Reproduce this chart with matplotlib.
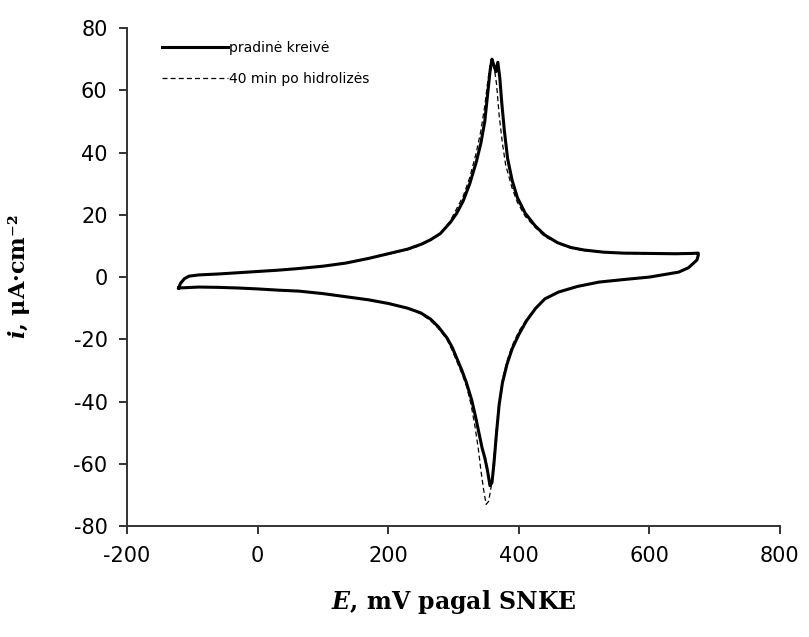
import matplotlib.pyplot as plt

# pradine kreive (solid): anodic branch left->right, cathodic branch right->left
E_up = [-121, -118, -112, -105, -90, -60, -30, 0, 30, 60, 100, 135, 170, 200,
        230, 250, 265, 280, 295, 305, 315, 325, 335, 342, 348, 352, 356, 359,
        362, 365, 368, 371, 374, 378, 383, 390, 398, 410, 425, 440, 460, 480,
        500, 530, 560, 600, 640, 665, 675]
i_up = [-3.5, -2.0, -0.5, 0.3, 0.7, 1.0, 1.4, 1.8, 2.2, 2.7, 3.5, 4.5, 6.0, 7.5,
        9.0, 10.5, 12, 14, 17.5, 20.5, 24.5, 30, 37, 43, 50, 58, 66, 70,
        68, 66, 69, 64, 56, 47, 38, 31, 25.5, 20.5, 16.5, 13.5, 11, 9.5,
        8.7, 8.0, 7.7, 7.6, 7.5, 7.6, 7.7]
E_dn = [675, 673, 660, 645, 600, 560, 523, 490, 461, 440, 426, 412, 400, 390,
        382, 375, 370, 366, 362, 359, 356, 352, 348, 344, 339, 334, 328, 320,
        313, 305, 298, 290, 277, 265, 250, 230, 201, 170, 135, 100, 63, 32, 0,
        -30, -60, -90, -121]
i_dn = [7.0, 5.5, 3.0, 1.6, 0.0, -0.8, -1.6, -3.0, -4.8, -7.0, -10, -14, -18.5, -23,
        -28, -34, -41, -50, -60, -66, -67, -62, -58, -55, -50, -45, -39.5, -34,
        -30, -26, -22.5, -19.5, -16, -13.5, -11.5, -10, -8.5, -7.3, -6.3, -5.3, -4.5, -4.2, -3.8,
        -3.5, -3.3, -3.2, -3.5]

# 40 min po hidrolizes (dashed)
E_up2 = [-121, -118, -112, -105, -90, -60, -30, 0, 30, 60, 100, 135, 170, 200,
         230, 250, 265, 280, 295, 305, 315, 325, 335, 342, 348, 352, 356, 359,
         362, 366, 370, 375, 380, 390, 398, 410, 425, 440, 460, 480, 500, 530,
         560, 600, 640, 665, 675]
i_up2 = [-3.5, -2.0, -0.5, 0.3, 0.7, 1.0, 1.4, 1.8, 2.2, 2.7, 3.5, 4.5, 6.0, 7.3,
         8.8, 10.2, 11.8, 14, 18, 22, 26, 32, 40, 47, 55, 62, 68, 70,
         68, 62, 52, 43, 36, 28.5, 24, 19.5, 16, 13, 10.8, 9.3, 8.5, 8.0,
         7.6, 7.5, 7.5, 7.6, 7.7]
E_dn2 = [675, 673, 660, 645, 600, 560, 523, 490, 461, 440, 426, 412, 400, 390,
         382, 375, 370, 366, 362, 358, 354, 350, 346, 342, 338, 333, 327, 320,
         313, 305, 298, 290, 277, 265, 250, 230, 201, 170, 135, 100, 63, 32, 0,
         -30, -60, -90, -121]
i_dn2 = [7.0, 5.5, 3.0, 1.6, 0.0, -0.8, -1.6, -3.0, -4.8, -7.0, -10, -13.5, -17.5, -22,
         -27, -33, -40, -48, -58, -67, -72, -73, -68, -62, -55, -48, -41, -35,
         -31, -27, -23.5, -20, -16.5, -14, -11.8, -10, -8.5, -7.3, -6.3, -5.3, -4.5, -4.2, -3.8,
         -3.5, -3.3, -3.2, -3.5]

x_ticks = [-200, 0, 200, 400, 600, 800]
y_ticks = [-80, -60, -40, -20, 0, 20, 40, 60, 80]

plt.rcParams['mathtext.fontset'] = 'dejavuserif'
plt.rcParams['axes.unicode_minus'] = False

fig = plt.figure(figsize=(8.09, 6.37), dpi=100)
ax = fig.add_axes([0.157, 0.174, 0.807, 0.782])

ax.plot(E_up2 + E_dn2, i_up2 + i_dn2, color='black', lw=0.9, ls=(0, (4, 2.5)),
        label='40 min po hidrolizės', zorder=2)
ax.plot(E_up + E_dn, i_up + i_dn, color='black', lw=2.2,
        label='pradinė kreivė', zorder=3)

ax.set_xlim(-200, 800)
ax.set_ylim(-80, 80)
ax.set_xticks(x_ticks)
ax.set_yticks(y_ticks)

for s in ['top', 'right']:
    ax.spines[s].set_visible(False)
for s in ['left', 'bottom']:
    ax.spines[s].set_linewidth(1.4)
    ax.spines[s].set_color('#333333')
ax.tick_params(direction='out', length=6, width=1.4, color='#333333',
               labelsize=15, pad=8)

ax.set_xlabel(r'$\mathbfit{E}$, mV pagal SNKE', family='DejaVu Serif',
              weight='bold', fontsize=17, labelpad=16)
ax.set_ylabel(r'$\mathbfit{i}$, μA·cm⁻²', family='DejaVu Serif',
              weight='bold', fontsize=16, labelpad=30)

h, l = ax.get_legend_handles_labels()
ax.legend(h[::-1], l[::-1], loc='upper left', bbox_to_anchor=(0.035, 1.0),
          frameon=False, fontsize=10, handlelength=4.7, handletextpad=0.1,
          labelspacing=1.25)

fig.savefig('out.png', dpi=100)
